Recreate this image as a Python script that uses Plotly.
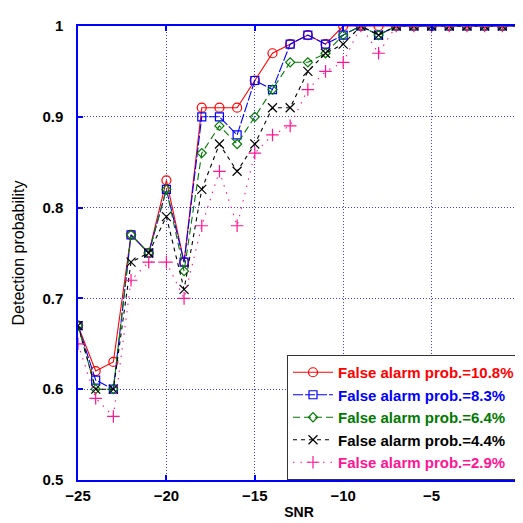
import plotly.graph_objects as go

snr = list(range(-25, 1))

pd_108 = [0.67, 0.62, 0.63, 0.77, 0.75, 0.83, 0.74, 0.91, 0.91, 0.91, 0.94, 0.97, 0.98, 0.99, 0.98, 1.0, 1.0, 1.0,
          1.0, 1.0, 1.0, 1.0, 1.0, 1.0, 1.0, 1.0]
pd_083 = [0.67, 0.61, 0.60, 0.77, 0.75, 0.82, 0.74, 0.90, 0.90, 0.88, 0.94, 0.93, 0.98, 0.99, 0.98, 0.99, 1.0, 0.99,
          1.0, 1.0, 1.0, 1.0, 1.0, 1.0, 1.0, 1.0]
pd_064 = [0.67, 0.60, 0.60, 0.77, 0.75, 0.82, 0.73, 0.86, 0.89, 0.87, 0.90, 0.93, 0.96, 0.96, 0.97, 0.99, 1.0, 0.99,
          1.0, 1.0, 1.0, 1.0, 1.0, 1.0, 1.0, 1.0]
pd_044 = [0.67, 0.60, 0.60, 0.74, 0.75, 0.79, 0.71, 0.82, 0.87, 0.84, 0.87, 0.91, 0.91, 0.95, 0.97, 0.98, 1.0, 0.99,
          1.0, 1.0, 1.0, 1.0, 1.0, 1.0, 1.0, 1.0]
pd_029 = [0.65, 0.59, 0.57, 0.72, 0.74, 0.74, 0.70, 0.78, 0.84, 0.78, 0.86, 0.88, 0.89, 0.93, 0.95, 0.96, 1.0, 0.97,
          1.0, 1.0, 1.0, 1.0, 1.0, 1.0, 1.0, 1.0]

names = ["False alarm prob.=10.8%", "False alarm prob.=8.3%", "False alarm prob.=6.4%",
         "False alarm prob.=4.4%", "False alarm prob.=2.9%"]

series = [pd_108, pd_083, pd_064, pd_044, pd_029]
colors = ["#ff0000", "#0000ff", "#007a00", "#000000", "#ff1493"]
dashes = ["solid", "10px,2px", "7px,4px", "4px,4px", "1.5px,6px"]
symbols = ["circle-open", "square-open", "diamond-open", "x-thin-open", "cross-thin-open"]
msizes = [9, 8, 7, 9, 9]

fig = go.Figure()
for ys, nm, c, d, s, ms in zip(series, names, colors, dashes, symbols, msizes):
    fig.add_trace(go.Scatter(
        x=snr, y=ys, mode="lines+markers",
        name='<span style="color:%s">%s</span>' % (c, nm),
        line=dict(color=c, width=1.1, dash=d),
        marker=dict(symbol=s, size=ms, color=c, line=dict(color=c, width=1.2)),
    ))

axis_common = dict(
    showline=True, linecolor="#0000ff", linewidth=1.5, mirror="ticks",
    ticks="inside", ticklen=5, tickcolor="#0000ff", tickwidth=1.5,
    showgrid=True, gridcolor="#3a3aff", griddash="1px,2px", gridwidth=1,
    zeroline=False, ticklabeloverflow="allow",
    tickfont=dict(family="Liberation Sans, Arial", size=15, color="#000000", weight="bold"),
)

fig.update_xaxes(range=[-25, 0], tickvals=[-25, -20, -15, -10, -5, 0],
                 ticklabelstandoff=1,
                 title=dict(text="SNR", font=dict(family="Liberation Sans, Arial", size=14, color="#000000", weight="bold"),
                            standoff=4),
                 **axis_common)
fig.update_yaxes(range=[0.5, 1.0], tickvals=[0.5, 0.6, 0.7, 0.8, 0.9, 1.0],
                 ticktext=["0.5", "0.6", "0.7", "0.8", "0.9", "1"],
                 ticklabelstandoff=10,
                 title=dict(text="Detection probability", font=dict(family="Liberation Sans, Arial", size=16, color="#000000"),
                            standoff=14),
                 **axis_common)

fig.update_layout(
    width=523, height=523,
    margin=dict(l=70, r=7, t=18, b=51),
    paper_bgcolor="white", plot_bgcolor="white",
    showlegend=True,
    legend=dict(
        x=1, y=0, xanchor="right", yanchor="bottom",
        bgcolor="white", bordercolor="#333333", borderwidth=1,
        font=dict(family="Liberation Sans, Arial", size=15, weight="bold"),
        tracegroupgap=0, itemwidth=40,
    ),
)

fig.write_html("out.html")
